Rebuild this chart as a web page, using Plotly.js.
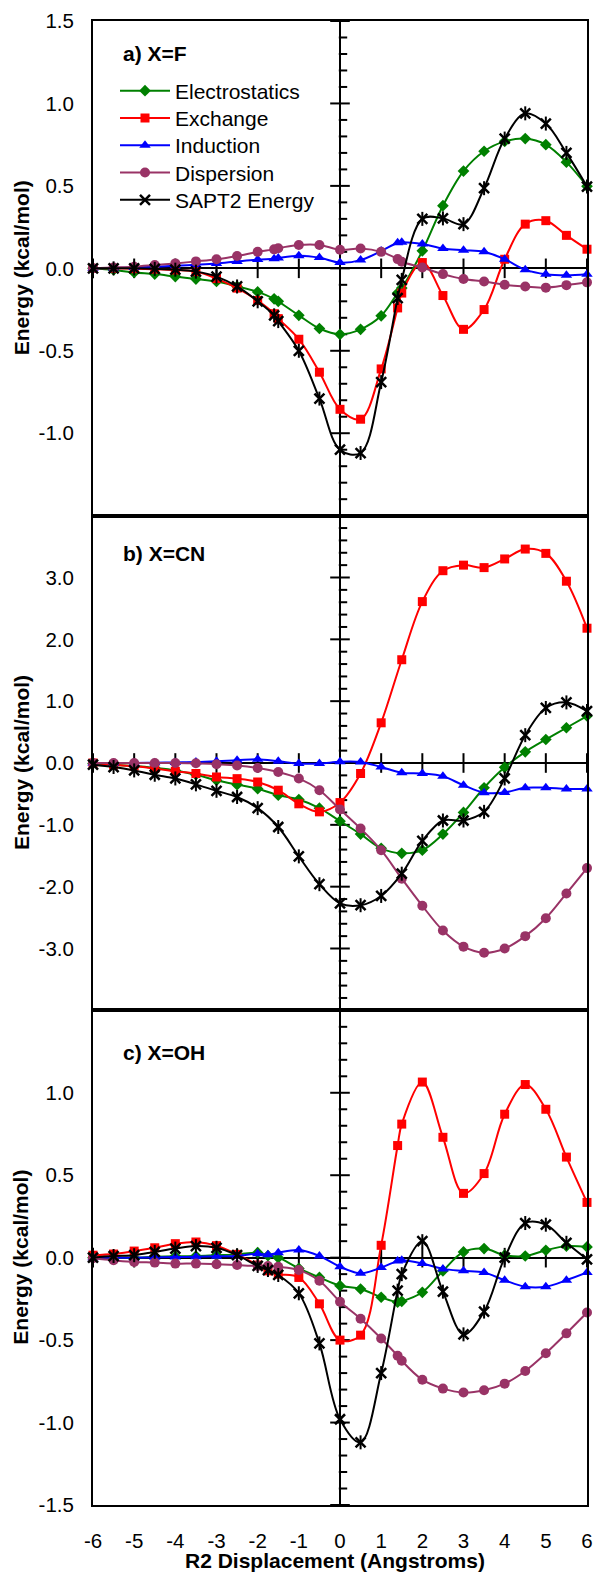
<!DOCTYPE html>
<html>
<head>
<meta charset="utf-8">
<script src="https://cdn.plot.ly/plotly-3.0.1.min.js"></script>
<style>html,body{margin:0;padding:0;background:#fff;}#chart{width:595px;height:1575px;}</style>
</head>
<body>
<div id="chart"></div>
<script>
// ---------- data ----------
const seriesNames = ['Electrostatics', 'Exchange', 'Induction', 'Dispersion', 'SAPT2 Energy'];

// panel a) X=F
const xA = [-6,-5.5,-5,-4.5,-4,-3.5,-3,-2.5,-2,-1.6,-1.5,-1,-0.5,0,0.5,1,1.4,1.5,2,2.5,3,3.5,4,4.5,5,5.5,6];
const elecA = [0,-0.01,-0.025,-0.035,-0.05,-0.065,-0.08,-0.11,-0.143,-0.185,-0.2,-0.285,-0.365,-0.4,-0.37,-0.288,-0.15,-0.12,0.106,0.38,0.59,0.71,0.77,0.787,0.75,0.644,0.498];
const exchA = [0,0,-0.002,-0.005,-0.01,-0.02,-0.062,-0.12,-0.195,-0.275,-0.305,-0.43,-0.63,-0.855,-0.915,-0.61,-0.24,-0.15,0.035,-0.165,-0.37,-0.25,0.055,0.268,0.289,0.2,0.116];
const indA  = [0,0.002,0.005,0.01,0.015,0.022,0.03,0.042,0.053,0.058,0.062,0.077,0.065,0.035,0.05,0.105,0.155,0.158,0.148,0.12,0.11,0.1,0.055,-0.008,-0.036,-0.042,-0.036];
const dispA = [0,0.005,0.01,0.02,0.03,0.042,0.055,0.075,0.1,0.115,0.122,0.142,0.142,0.113,0.12,0.1,0.056,0.04,0.005,-0.035,-0.065,-0.08,-0.1,-0.11,-0.117,-0.102,-0.085];
const saptA = [0,0,0,-0.003,-0.008,-0.02,-0.05,-0.11,-0.2,-0.285,-0.32,-0.5,-0.79,-1.1,-1.12,-0.69,-0.18,-0.07,0.3,0.303,0.268,0.486,0.787,0.94,0.878,0.7,0.496];

// panel b) X=CN
const xB = [-6,-5.5,-5,-4.5,-4,-3.5,-3,-2.5,-2,-1.5,-1,-0.5,0,0.5,1,1.5,2,2.5,3,3.5,4,4.5,5,5.5,6];
const elecB = [-0.01,-0.03,-0.05,-0.08,-0.12,-0.19,-0.28,-0.35,-0.415,-0.52,-0.59,-0.73,-0.94,-1.15,-1.38,-1.46,-1.41,-1.15,-0.8,-0.4,-0.07,0.18,0.38,0.57,0.76];
const exchB = [0,-0.03,-0.05,-0.09,-0.135,-0.17,-0.226,-0.253,-0.307,-0.44,-0.66,-0.79,-0.64,-0.17,0.65,1.67,2.61,3.11,3.2,3.16,3.3,3.46,3.39,2.94,2.18];
const indB  = [0,0,0,0.005,0.01,0.015,0.027,0.043,0.06,0.027,-0.01,-0.01,0.02,0.016,-0.065,-0.156,-0.17,-0.215,-0.36,-0.48,-0.476,-0.4,-0.4,-0.42,-0.42];
const dispB = [0,0,0,0,0,-0.005,-0.02,-0.04,-0.08,-0.145,-0.25,-0.44,-0.75,-1.06,-1.41,-1.87,-2.31,-2.71,-2.97,-3.07,-3.0,-2.8,-2.51,-2.11,-1.7];
const saptB = [-0.027,-0.065,-0.12,-0.19,-0.25,-0.345,-0.45,-0.55,-0.73,-1.035,-1.51,-1.96,-2.27,-2.3,-2.15,-1.79,-1.26,-0.93,-0.93,-0.79,-0.25,0.45,0.89,0.98,0.84];

// panel c) X=OH
const xC = [-6,-5.5,-5,-4.5,-4,-3.5,-3,-2.5,-2,-1.75,-1.5,-1,-0.5,0,0.5,1,1.4,1.5,2,2.5,3,3.5,4,4.5,5,5.5,6];
const elecC = [0,0,0,0.005,0.008,0.01,0.015,0.02,0.03,0.012,0,-0.065,-0.12,-0.17,-0.19,-0.24,-0.27,-0.265,-0.21,-0.08,0.035,0.055,0.015,0.01,0.045,0.07,0.065];
const exchC = [0.015,0.022,0.04,0.06,0.085,0.095,0.073,0.02,-0.045,-0.08,-0.1,-0.12,-0.28,-0.5,-0.47,0.075,0.68,0.81,1.065,0.73,0.39,0.51,0.87,1.05,0.9,0.61,0.335];
const indC  = [0,0,0,0.002,0.004,0.005,0.008,0.01,0.024,0.018,0.03,0.046,0.01,-0.055,-0.095,-0.06,-0.02,-0.016,-0.036,-0.068,-0.08,-0.09,-0.137,-0.176,-0.176,-0.137,-0.09];
const dispC = [-0.004,-0.016,-0.026,-0.03,-0.036,-0.036,-0.04,-0.045,-0.05,-0.05,-0.055,-0.075,-0.14,-0.267,-0.37,-0.49,-0.595,-0.625,-0.74,-0.794,-0.818,-0.804,-0.764,-0.687,-0.58,-0.459,-0.333];
const saptC = [0,0.01,0.015,0.035,0.055,0.07,0.06,0.015,-0.05,-0.075,-0.105,-0.216,-0.52,-0.98,-1.12,-0.7,-0.2,-0.1,0.1,-0.206,-0.465,-0.327,0,0.21,0.2,0.09,-0.01];

// tick labels
const xTickVals = [-6,-5,-4,-3,-2,-1,0,1,2,3,4,5,6];
const xTickText = ['-6','-5','-4','-3','-2','-1','0','1','2','3','4','5','6'];
const yTickValsA = [-1,-0.5,0,0.5,1,1.5];
const yTickTextA = ['-1.0','-0.5','0.0','0.5','1.0','1.5'];
const yTickValsB = [-3,-2,-1,0,1,2,3];
const yTickTextB = ['-3.0','-2.0','-1.0','0.0','1.0','2.0','3.0'];
const yTickValsC = [-1.5,-1,-0.5,0,0.5,1];
const yTickTextC = ['-1.5','-1.0','-0.5','0.0','0.5','1.0'];
const panelLabels = ['a) X=F', 'b) X=CN', 'c) X=OH'];
const xTitle = 'R2 Displacement (Angstroms)';
const yTitle = 'Energy (kcal/mol)';

// ---------- styling ----------
const FONT = 'Liberation Sans, Arial, sans-serif';
const colors = ['#008000', '#FF0000', '#0000FF', '#993366', '#000000'];
const symbols = ['diamond', 'square', 'triangle-up', 'circle', 'x-thin-open'];
const sizes = [9, 9, 10, 10, 10];
const X_RANGE = [-6, 6];

// panels: index 1 = bottom (c), 2 = middle (b), 3 = top (a)
const panels = [
  {ax: 3, x: xA, ys: [elecA, exchA, indA, dispA, saptA], dom: [2/3, 1], range: [-1.5, 1.5], tv: yTickValsA, tt: yTickTextA, dmaj: 0.5, dmin: 0.1, label: panelLabels[0], legend: true},
  {ax: 2, x: xB, ys: [elecB, exchB, indB, dispB, saptB], dom: [1/3, 2/3], range: [-4, 4], tv: yTickValsB, tt: yTickTextB, dmaj: 1, dmin: 0.2, label: panelLabels[1], legend: false},
  {ax: 1, x: xC, ys: [elecC, exchC, indC, dispC, saptC], dom: [0, 1/3], range: [-1.5, 1.5], tv: yTickValsC, tt: yTickTextC, dmaj: 0.5, dmin: 0.1, label: panelLabels[2], legend: false}
];

const W = 595, H = 1575;
const M = {l: 93, r: 8, t: 21, b: 70};
const plotH = H - M.t - M.b;
const plotW = W - M.l - M.r;
const pxX = px => (px - M.l) / plotW;
const pxY = px => (M.t + plotH - px) / plotH;
// x-axis units per screen pixel (for offsetting the one-sided minor ticks)
const xUnitsPerPx = (X_RANGE[1] - X_RANGE[0]) / plotW;

const traces = [];
const layout = {
  width: W, height: H, margin: M,
  paper_bgcolor: '#fff', plot_bgcolor: '#fff',
  font: {family: FONT, size: 20, color: '#000'},
  showlegend: true,
  annotations: [],
  hovermode: false
};

// one legend per series so the row spacing can follow the reference
const legendIds = ['legend', 'legend2', 'legend3', 'legend4', 'legend5'];
legendIds.forEach((id, k) => {
  layout[id] = {
    x: pxX(115), y: pxY(70.5 + 27.3 * k), xanchor: 'left', yanchor: 'top',
    bgcolor: 'rgba(0,0,0,0)', borderwidth: 0,
    font: {family: FONT, size: 21, color: '#000'},
    itemwidth: 50
  };
});

const axName = (k, i) => i === 1 ? k + 'axis' : k + 'axis' + i;
const axRef = (k, i) => i === 1 ? k : k + i;
const tickMarker = (symbol, size) => ({symbol: symbol, size: size, color: '#000', line: {color: '#000', width: 2}});

panels.forEach(p => {
  const i = p.ax;
  const xr = axRef('x', i), yr = axRef('y', i);
  // x axis: frame + vertical zero line
  layout[axName('x', i)] = {
    domain: [0, 1], anchor: yr, range: X_RANGE, fixedrange: true,
    showline: true, linewidth: 2, linecolor: '#000', mirror: true,
    zeroline: true, zerolinewidth: 2, zerolinecolor: '#000', showgrid: false,
    tickmode: 'array', tickvals: xTickVals, ticktext: xTickText, ticks: '',
    showticklabels: i === 1, ticklabelstandoff: 16,
    tickfont: {family: FONT, size: 20.5, color: '#000'}
  };
  // y axis: frame + horizontal zero line + labels
  layout[axName('y', i)] = {
    domain: p.dom, anchor: xr, range: p.range, fixedrange: true,
    showline: true, linewidth: 2, linecolor: '#000', mirror: true,
    zeroline: true, zerolinewidth: 2, zerolinecolor: '#000', showgrid: false,
    tickmode: 'array', tickvals: p.tv, ticktext: p.tt, ticks: '',
    ticklabelstandoff: 13,
    tickfont: {family: FONT, size: 20.5, color: '#000'}
  };

  // tick marks on the zero lines, drawn as line markers through the panel's own scales
  const majorY = [], minorY = [];
  const n = Math.round((p.range[1] - p.range[0]) / p.dmin);
  for (let j = 0; j <= n; j++) {
    const v = +(p.range[0] + j * p.dmin).toFixed(6);
    const r = v / p.dmaj;
    if (Math.abs(r - Math.round(r)) < 1e-6) majorY.push(v); else minorY.push(v);
  }
  // major ticks: crossing the vertical zero line
  traces.push({type: 'scatter', mode: 'markers', x: majorY.map(() => 0), y: majorY, xaxis: xr, yaxis: yr,
    showlegend: false, hoverinfo: 'skip', cliponaxis: false, marker: tickMarker('line-ew-open', 14)});
  // minor ticks: on the right side of the vertical zero line
  traces.push({type: 'scatter', mode: 'markers', x: minorY.map(() => 3 * xUnitsPerPx), y: minorY, xaxis: xr, yaxis: yr,
    showlegend: false, hoverinfo: 'skip', cliponaxis: false, marker: tickMarker('line-ew-open', 6)});
  // ticks crossing the horizontal zero line at each integer
  traces.push({type: 'scatter', mode: 'markers', x: xTickVals, y: xTickVals.map(() => 0), xaxis: xr, yaxis: yr,
    showlegend: false, hoverinfo: 'skip', cliponaxis: false, marker: tickMarker('line-ns-open', 14)});

  // data series
  p.ys.forEach((ys, k) => {
    traces.push({
      type: 'scatter', mode: 'lines+markers', x: p.x, y: ys, xaxis: xr, yaxis: yr,
      name: seriesNames[k], showlegend: p.legend, legend: legendIds[k], cliponaxis: false,
      line: {color: colors[k], width: 2, shape: 'spline', smoothing: 1},
      marker: k === 4
        ? {symbol: symbols[k], size: sizes[k], color: colors[k], line: {color: colors[k], width: 2.5}}
        : {symbol: symbols[k], size: sizes[k], color: colors[k], line: {width: 0}}
    });
    if (k === 4) {
      traces.push({
        type: 'scatter', mode: 'markers', x: p.x, y: ys, xaxis: xr, yaxis: yr,
        showlegend: false, cliponaxis: false, hoverinfo: 'skip',
        marker: {symbol: 'line-ns-open', size: 10, color: colors[k], line: {color: colors[k], width: 2}}
      });
    }
  });

  // panel label
  const labelPx = {3: 53, 2: 553, 1: 1052}[i];
  layout.annotations.push({
    xref: 'paper', yref: 'paper', x: pxX(121), y: pxY(labelPx),
    xanchor: 'left', yanchor: 'middle', showarrow: false,
    text: '<b>' + p.label + '</b>', font: {family: FONT, size: 21, color: '#000'}
  });
  // y-axis title
  layout.annotations.push({
    xref: 'paper', yref: 'paper', x: pxX(21), y: (p.dom[0] + p.dom[1]) / 2,
    xanchor: 'center', yanchor: 'middle', showarrow: false, textangle: -90,
    text: '<b>' + yTitle + '</b>', font: {family: FONT, size: 21, color: '#000'}
  });
});

// x-axis title
layout.annotations.push({
  xref: 'paper', yref: 'paper', x: pxX(335), y: pxY(1560),
  xanchor: 'center', yanchor: 'middle', showarrow: false,
  text: '<b>' + xTitle + '</b>', font: {family: FONT, size: 21, color: '#000'}
});

Plotly.newPlot('chart', traces, layout, {staticPlot: true, displayModeBar: false});
</script>
</body>
</html>
